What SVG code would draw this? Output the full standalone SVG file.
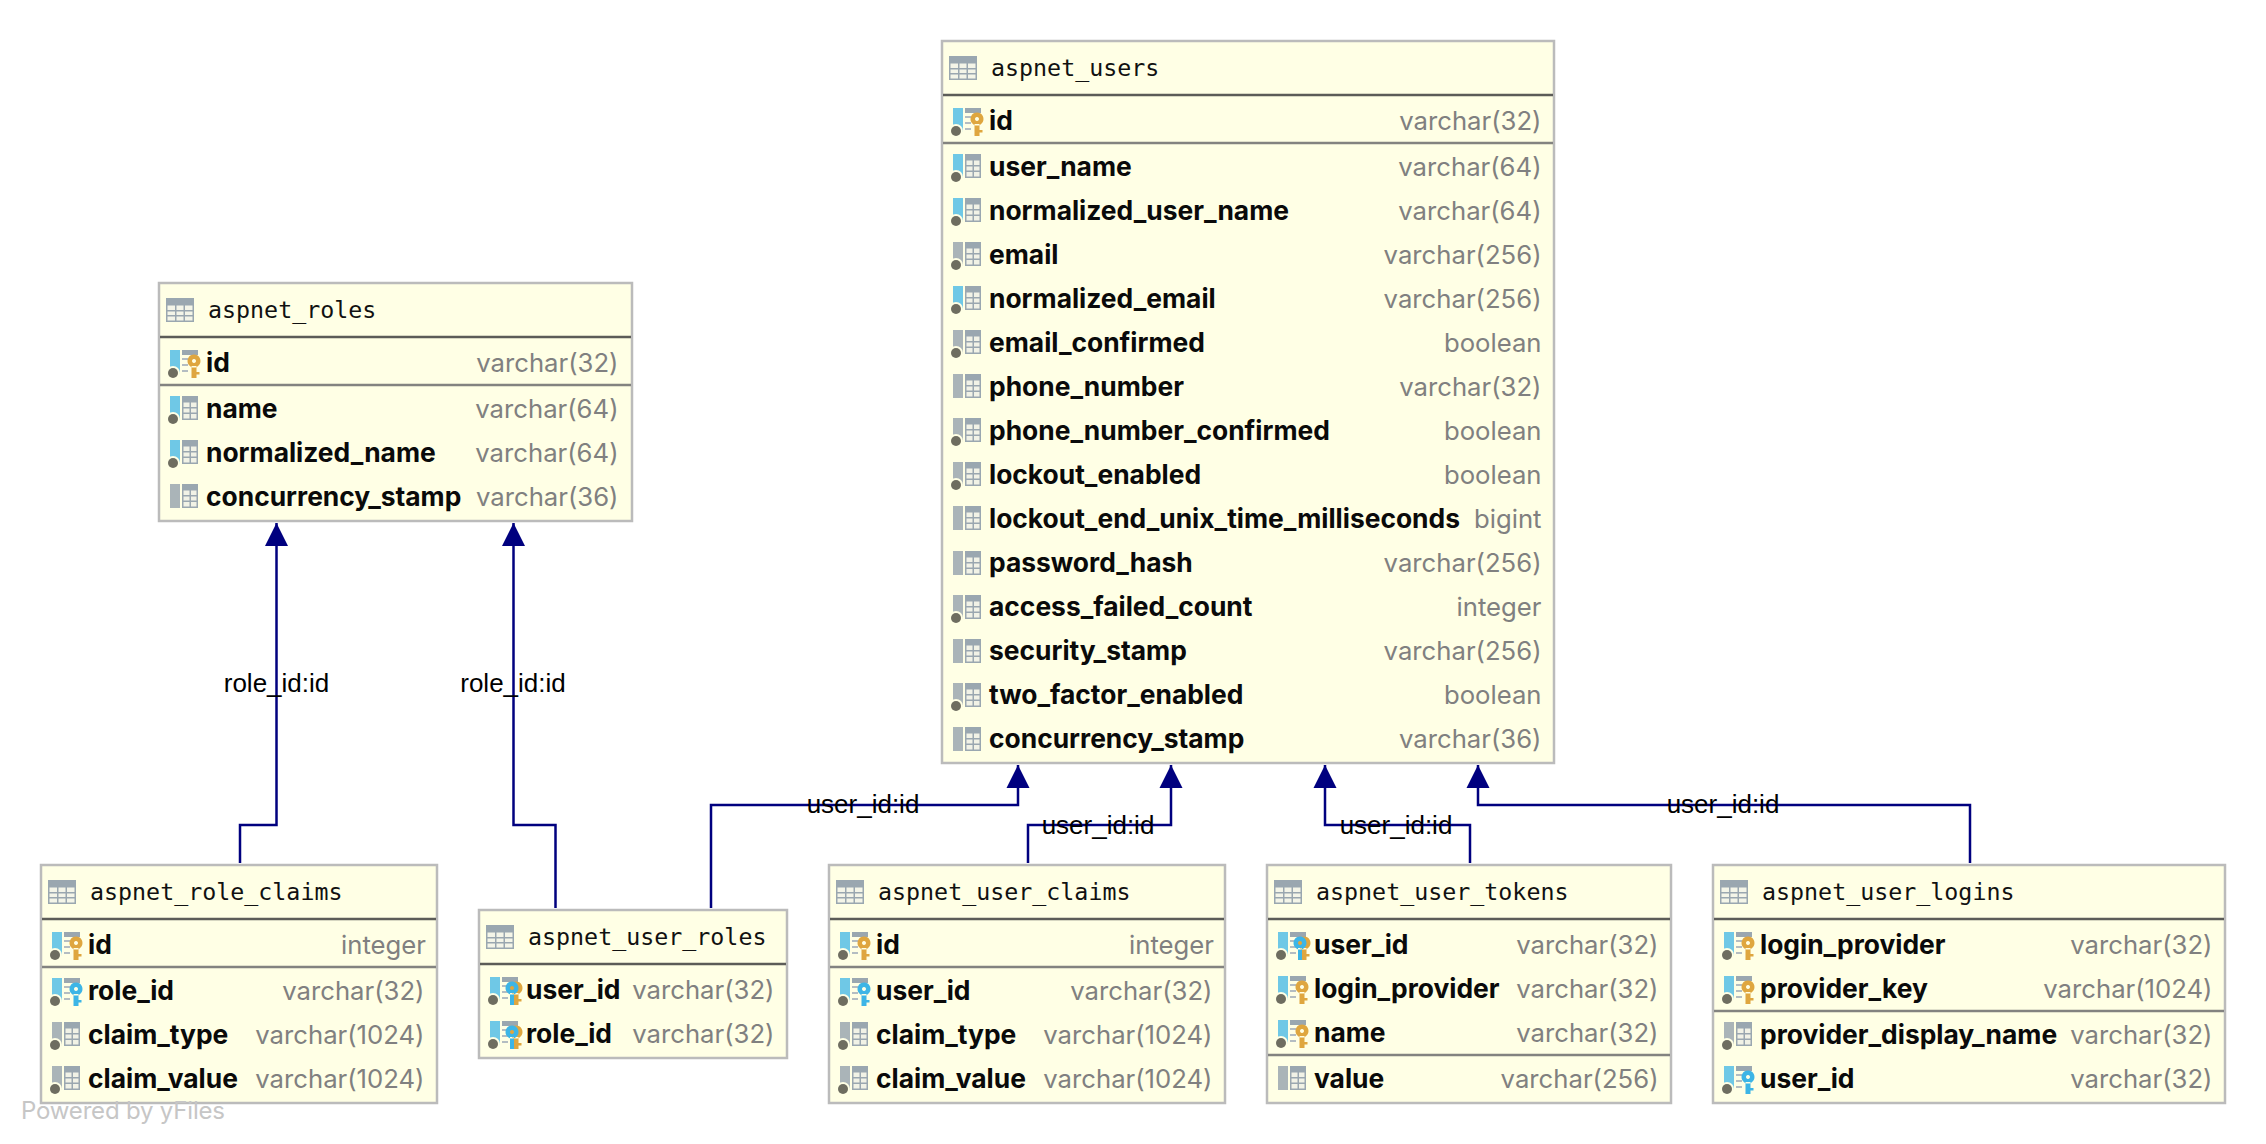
<svg xmlns="http://www.w3.org/2000/svg" width="2266" height="1144" viewBox="0 0 2266 1144">
<style>
.box{fill:#FFFFE5;stroke:#BBBBBB;stroke-width:2.5}
.hl{stroke:#5C5C58;stroke-width:2.5}
.sl{stroke:#838380;stroke-width:2.5}
.h{font-family:"DejaVu Sans Mono","Liberation Mono",monospace;font-size:23.3px;fill:#111}
.n{font-family:Inter,"Liberation Sans",sans-serif;font-size:26.4px;font-weight:700;fill:#0A0A0A}
.t{font-family:Inter,"Liberation Sans",sans-serif;font-size:25.7px;fill:#808080;text-anchor:end}
.e{font-family:"Liberation Sans",Arial,sans-serif;font-size:26px;fill:#000;text-anchor:middle}
.c{fill:none;stroke:#00007F;stroke-width:2.5}
.wm{font-family:Inter,"Liberation Sans",sans-serif;font-size:24px;fill:#C6C6C6}
</style>
<defs>
<marker id="arr" markerUnits="userSpaceOnUse" markerWidth="24" markerHeight="24" refX="23" refY="12" orient="auto"><path d="M0,0.500L23,12L0,23.500Z" fill="#00007F"/></marker>
<g id="tbl"><rect width="28" height="24" fill="#9AA7B0"/><path d="M1.500,7.500h7.500v4.500h-7.500zM10.500,7.500h7v4.500h-7zM19,7.500h7.500v4.500h-7.500zM1.500,13.500h7.500v3.500h-7.500zM10.500,13.500h7v3.500h-7zM19,13.500h7.500v3.500h-7.500zM1.500,18.500h7.500v4h-7.500zM10.500,18.500h7v4h-7zM19,18.500h7.500v4h-7.500z" fill="#F4F5E8"/></g>
<g id="grid"><rect x="12" width="16" height="24" fill="#9AA7B0"/><path d="M13.500,6.500h6v4.500h-6zM21,6.500h5.500v4.500h-5.500zM13.500,12.500h6v4h-6zM21,12.500h5.500v4h-5.500zM13.500,18h6v4.500h-6zM21,18h5.500v4.500h-5.500z" fill="#F1F2E6"/></g>
<g id="dash"><rect x="12" width="16" height="5" fill="#9AA7B0"/><path d="M12,8h6v2h-6zM12,14h6v2h-6zM12,20h6v2h-6z" fill="#B4BDC2"/></g>
<g id="dot"><circle cx="3" cy="23" r="7" fill="#FFFFE5"/><circle cx="3" cy="23" r="5" fill="#6E6D60"/></g>
<path id="key" d="M24,4.500a6.500,6.500 0 1 1 -0.010,0ZM24,9a2,2 0 1 0 0.010,0ZM21.500,16h5v6h3v2.500h-3v3.500h-5Z" fill-rule="evenodd"/>
<g id="i-pk"><rect width="10" height="24" fill="#6FC8E6"/><use href="#dash"/><use href="#dot"/><use href="#key" fill="#DFA63F"/></g>
<g id="i-fk"><rect width="10" height="24" fill="#6FC8E6"/><use href="#dash"/><use href="#dot"/><use href="#key" fill="#3DB5E6"/></g>
<g id="i-pf"><rect width="10" height="24" fill="#6FC8E6"/><use href="#dash"/><use href="#dot"/><use href="#key" fill="#DFA63F" x="2"/><path d="M22,4.500a6.500,6.500 0 1 1 -0.010,0ZM22,9a2,2 0 1 0 0.010,0ZM20,16h4v12h-4Z" fill="#3DB5E6" fill-rule="evenodd"/></g>
<g id="i-idx"><rect width="10" height="24" fill="#6FC8E6"/><use href="#grid"/><use href="#dot"/></g>
<g id="i-col"><rect width="10" height="24" fill="#AAB4B8"/><use href="#grid"/><use href="#dot"/></g>
<g id="i-nul"><rect width="10" height="24" fill="#AAB4B8"/><use href="#grid"/></g>
</defs>
<rect width="2266" height="1144" fill="#FFFFFF"/>
<g id="connectors">
<path class="c" marker-end="url(#arr)" d="M240,863V825H276.500V523"/>
<path class="c" marker-end="url(#arr)" d="M555.500,908V825H513.500V523"/>
<path class="c" marker-end="url(#arr)" d="M711,908V805H1018V765"/>
<path class="c" marker-end="url(#arr)" d="M1028,863V825H1171V765"/>
<path class="c" marker-end="url(#arr)" d="M1470,863V825H1325V765"/>
<path class="c" marker-end="url(#arr)" d="M1970,863V805H1478V765"/>
<text class="e" x="276.500" y="692">role_id:id</text>
<text class="e" x="513" y="692">role_id:id</text>
<text class="e" x="863" y="813">user_id:id</text>
<text class="e" x="1098" y="834">user_id:id</text>
<text class="e" x="1396" y="834">user_id:id</text>
<text class="e" x="1723" y="813">user_id:id</text>
</g>
<g id="aspnet_users">
<rect class="box" x="942" y="41" width="612" height="722"/>
<use href="#tbl" x="949" y="56"/>
<text class="h" x="991" y="75.500">aspnet_users</text>
<line class="hl" x1="943" x2="1553" y1="95" y2="95"/>
<line class="sl" x1="943" x2="1553" y1="143" y2="143"/>
<use href="#i-pk" x="953" y="108"/><text class="n" x="989" y="130">id</text><text class="t" x="1541.500" y="130">varchar(32)</text>
<use href="#i-idx" x="953" y="154"/><text class="n" x="989" y="176">user_name</text><text class="t" x="1541.500" y="176">varchar(64)</text>
<use href="#i-idx" x="953" y="198"/><text class="n" x="989" y="220">normalized_user_name</text><text class="t" x="1541.500" y="220">varchar(64)</text>
<use href="#i-col" x="953" y="242"/><text class="n" x="989" y="264">email</text><text class="t" x="1541.500" y="264">varchar(256)</text>
<use href="#i-idx" x="953" y="286"/><text class="n" x="989" y="308">normalized_email</text><text class="t" x="1541.500" y="308">varchar(256)</text>
<use href="#i-col" x="953" y="330"/><text class="n" x="989" y="352">email_confirmed</text><text class="t" x="1541.500" y="352">boolean</text>
<use href="#i-nul" x="953" y="374"/><text class="n" x="989" y="396">phone_number</text><text class="t" x="1541.500" y="396">varchar(32)</text>
<use href="#i-col" x="953" y="418"/><text class="n" x="989" y="440">phone_number_confirmed</text><text class="t" x="1541.500" y="440">boolean</text>
<use href="#i-col" x="953" y="462"/><text class="n" x="989" y="484">lockout_enabled</text><text class="t" x="1541.500" y="484">boolean</text>
<use href="#i-nul" x="953" y="506"/><text class="n" x="989" y="528">lockout_end_unix_time_milliseconds</text><text class="t" x="1541.500" y="528">bigint</text>
<use href="#i-nul" x="953" y="551"/><text class="n" x="989" y="572">password_hash</text><text class="t" x="1541.500" y="572">varchar(256)</text>
<use href="#i-col" x="953" y="595"/><text class="n" x="989" y="616">access_failed_count</text><text class="t" x="1541.500" y="616">integer</text>
<use href="#i-nul" x="953" y="639"/><text class="n" x="989" y="660">security_stamp</text><text class="t" x="1541.500" y="660">varchar(256)</text>
<use href="#i-col" x="953" y="683"/><text class="n" x="989" y="704">two_factor_enabled</text><text class="t" x="1541.500" y="704">boolean</text>
<use href="#i-nul" x="953" y="727"/><text class="n" x="989" y="748">concurrency_stamp</text><text class="t" x="1541.500" y="748">varchar(36)</text>
</g>
<g id="aspnet_roles">
<rect class="box" x="159" y="283" width="473" height="238"/>
<use href="#tbl" x="166" y="298"/>
<text class="h" x="208" y="317.500">aspnet_roles</text>
<line class="hl" x1="160" x2="631" y1="337" y2="337"/>
<line class="sl" x1="160" x2="631" y1="385" y2="385"/>
<use href="#i-pk" x="170" y="350"/><text class="n" x="206" y="372">id</text><text class="t" x="618.500" y="372">varchar(32)</text>
<use href="#i-idx" x="170" y="396"/><text class="n" x="206" y="418">name</text><text class="t" x="618.500" y="418">varchar(64)</text>
<use href="#i-idx" x="170" y="440"/><text class="n" x="206" y="462">normalized_name</text><text class="t" x="618.500" y="462">varchar(64)</text>
<use href="#i-nul" x="170" y="484"/><text class="n" x="206" y="506">concurrency_stamp</text><text class="t" x="618.500" y="506">varchar(36)</text>
</g>
<g id="aspnet_role_claims">
<rect class="box" x="41" y="865" width="396" height="238"/>
<use href="#tbl" x="48" y="880"/>
<text class="h" x="90" y="899.500">aspnet_role_claims</text>
<line class="hl" x1="42" x2="436" y1="919" y2="919"/>
<line class="sl" x1="42" x2="436" y1="967" y2="967"/>
<use href="#i-pk" x="52" y="932"/><text class="n" x="88" y="954">id</text><text class="t" x="426" y="954">integer</text>
<use href="#i-fk" x="52" y="978"/><text class="n" x="88" y="1000">role_id</text><text class="t" x="424.500" y="1000">varchar(32)</text>
<use href="#i-col" x="52" y="1022"/><text class="n" x="88" y="1044">claim_type</text><text class="t" x="424.500" y="1044">varchar(1024)</text>
<use href="#i-col" x="52" y="1066"/><text class="n" x="88" y="1088">claim_value</text><text class="t" x="424.500" y="1088">varchar(1024)</text>
</g>
<g id="aspnet_user_roles">
<rect class="box" x="479" y="910" width="308" height="148"/>
<use href="#tbl" x="486" y="925"/>
<text class="h" x="528" y="944.500">aspnet_user_roles</text>
<line class="hl" x1="480" x2="786" y1="964" y2="964"/>
<use href="#i-pf" x="490" y="977"/><text class="n" x="526" y="999">user_id</text><text class="t" x="774.500" y="999">varchar(32)</text>
<use href="#i-pf" x="490" y="1021"/><text class="n" x="526" y="1043">role_id</text><text class="t" x="774.500" y="1043">varchar(32)</text>
</g>
<g id="aspnet_user_claims">
<rect class="box" x="829" y="865" width="396" height="238"/>
<use href="#tbl" x="836" y="880"/>
<text class="h" x="878" y="899.500">aspnet_user_claims</text>
<line class="hl" x1="830" x2="1224" y1="919" y2="919"/>
<line class="sl" x1="830" x2="1224" y1="967" y2="967"/>
<use href="#i-pk" x="840" y="932"/><text class="n" x="876" y="954">id</text><text class="t" x="1214" y="954">integer</text>
<use href="#i-fk" x="840" y="978"/><text class="n" x="876" y="1000">user_id</text><text class="t" x="1212.500" y="1000">varchar(32)</text>
<use href="#i-col" x="840" y="1022"/><text class="n" x="876" y="1044">claim_type</text><text class="t" x="1212.500" y="1044">varchar(1024)</text>
<use href="#i-col" x="840" y="1066"/><text class="n" x="876" y="1088">claim_value</text><text class="t" x="1212.500" y="1088">varchar(1024)</text>
</g>
<g id="aspnet_user_tokens">
<rect class="box" x="1267" y="865" width="404" height="238"/>
<use href="#tbl" x="1274" y="880"/>
<text class="h" x="1316" y="899.500">aspnet_user_tokens</text>
<line class="hl" x1="1268" x2="1670" y1="919" y2="919"/>
<line class="sl" x1="1268" x2="1670" y1="1055" y2="1055"/>
<use href="#i-pf" x="1278" y="932"/><text class="n" x="1314" y="954">user_id</text><text class="t" x="1658.500" y="954">varchar(32)</text>
<use href="#i-pk" x="1278" y="976"/><text class="n" x="1314" y="998">login_provider</text><text class="t" x="1658.500" y="998">varchar(32)</text>
<use href="#i-pk" x="1278" y="1020"/><text class="n" x="1314" y="1042">name</text><text class="t" x="1658.500" y="1042">varchar(32)</text>
<use href="#i-nul" x="1278" y="1066"/><text class="n" x="1314" y="1088">value</text><text class="t" x="1658.500" y="1088">varchar(256)</text>
</g>
<g id="aspnet_user_logins">
<rect class="box" x="1713" y="865" width="512" height="238"/>
<use href="#tbl" x="1720" y="880"/>
<text class="h" x="1762" y="899.500">aspnet_user_logins</text>
<line class="hl" x1="1714" x2="2224" y1="919" y2="919"/>
<line class="sl" x1="1714" x2="2224" y1="1011" y2="1011"/>
<use href="#i-pk" x="1724" y="932"/><text class="n" x="1760" y="954">login_provider</text><text class="t" x="2212.500" y="954">varchar(32)</text>
<use href="#i-pk" x="1724" y="976"/><text class="n" x="1760" y="998">provider_key</text><text class="t" x="2212.500" y="998">varchar(1024)</text>
<use href="#i-col" x="1724" y="1022"/><text class="n" x="1760" y="1044">provider_display_name</text><text class="t" x="2212.500" y="1044">varchar(32)</text>
<use href="#i-fk" x="1724" y="1066"/><text class="n" x="1760" y="1088">user_id</text><text class="t" x="2212.500" y="1088">varchar(32)</text>
</g>
<text class="wm" x="21" y="1119" textLength="204">Powered by yFiles</text>
</svg>
